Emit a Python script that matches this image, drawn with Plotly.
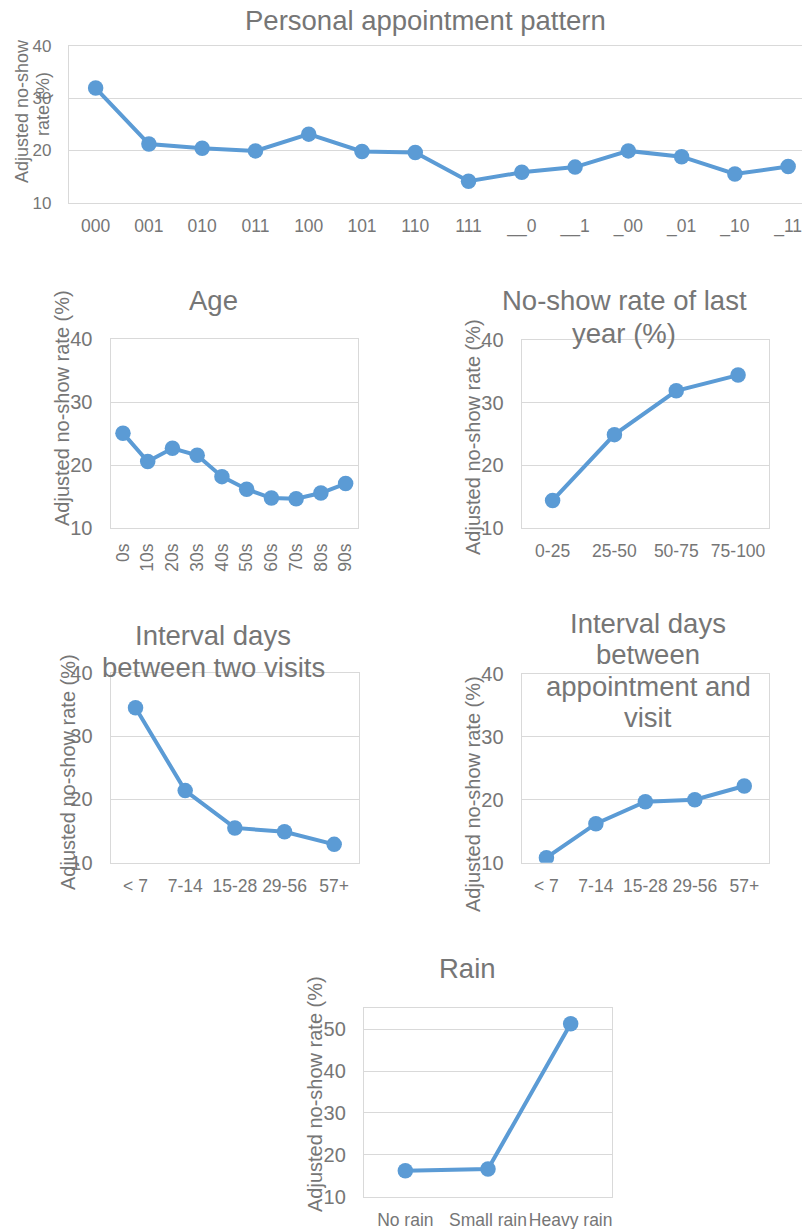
import plotly.graph_objects as go

# ---- data ----
pattern_cats = ["000", "001", "010", "011", "100", "101", "110", "111",
                "__0", "__1", "_00", "_01", "_10", "_11"]
pattern_vals = [31.9, 21.2, 20.4, 19.9, 23.1, 19.8, 19.6, 14.1,
                15.8, 16.8, 19.9, 18.8, 15.5, 16.9]

age_cats = ["0s", "10s", "20s", "30s", "40s", "50s", "60s", "70s", "80s", "90s"]
age_vals = [25.1, 20.6, 22.7, 21.6, 18.2, 16.2, 14.8, 14.7, 15.6, 17.1]

lastyear_cats = ["0-25", "25-50", "50-75", "75-100"]
lastyear_vals = [14.4, 24.9, 31.9, 34.4]

visits_cats = ["< 7", "7-14", "15-28", "29-56", "57+"]
visits_vals = [34.5, 21.4, 15.5, 14.9, 12.9]

appt_cats = ["< 7", "7-14", "15-28", "29-56", "57+"]
appt_vals = [10.8, 16.2, 19.7, 20.0, 22.2]

rain_cats = ["No rain", "Small rain", "Heavy rain"]
rain_vals = [16.2, 16.6, 51.3]

# ---- styling ----
W, H = 802, 1229
FONT = "Liberation Sans, Arial, sans-serif"
TXT = "#767676"
GRID = "#D9D9D9"
BLUE = "#5B9BD5"
YTITLE = "Adjusted no-show rate (%)"


def xdom(x0, x1):
    return [x0 / W, x1 / W]


def ydom(y0, y1):
    return [1 - y1 / H, 1 - y0 / H]


# panel definitions: categories, values, pixel box, ranges, tick font sizes, tick angle
panels = [
    dict(cats=pattern_cats, vals=pattern_vals, box=(69, 45.7, 802, 202.7),
         yr=[10, 40], xr=[-0.5, 13.26], yfs=17, xfs=17.5, ang=0),
    dict(cats=age_cats, vals=age_vals, box=(110.6, 339.3, 358, 528.3),
         yr=[10, 40], xr=None, yfs=20, xfs=17.5, ang=-90),
    dict(cats=lastyear_cats, vals=lastyear_vals, box=(521.7, 340, 769, 528),
         yr=[10, 40], xr=None, yfs=20, xfs=17.5, ang=0),
    dict(cats=visits_cats, vals=visits_vals, box=(110.7, 673, 359, 862.7),
         yr=[10, 40], xr=None, yfs=20, xfs=17.5, ang=0),
    dict(cats=appt_cats, vals=appt_vals, box=(521.7, 674, 769, 862.7),
         yr=[10, 40], xr=None, yfs=20, xfs=17.5, ang=0),
    dict(cats=rain_cats, vals=rain_vals, box=(364, 1008.3, 612, 1196.7),
         yr=[10, 55], xr=None, yfs=20, xfs=17.5, ang=0),
]

fig = go.Figure()
layout = {}
for i, p in enumerate(panels, start=1):
    sx = "" if i == 1 else str(i)
    fig.add_trace(go.Scatter(
        x=p["cats"], y=p["vals"], mode="lines+markers",
        line=dict(color=BLUE, width=4),
        marker=dict(color=BLUE, size=15.5),
        xaxis="x" + sx, yaxis="y" + sx, showlegend=False,
        hoverinfo="x+y",
    ))
    x0, y0, x1, y1 = p["box"]
    n = len(p["cats"])
    layout["xaxis" + sx] = dict(
        domain=xdom(x0, x1), anchor="y" + sx, type="category",
        range=p["xr"] if p["xr"] else [-0.5, n - 0.5],
        automargin=False,
        showgrid=False, zeroline=False,
        showline=True, mirror=True, linecolor=GRID, linewidth=1.3,
        ticks="", tickangle=p["ang"], ticklabelstandoff=7,
        tickfont=dict(family=FONT, size=p["xfs"], color=TXT),
        fixedrange=True,
    )
    layout["yaxis" + sx] = dict(
        domain=ydom(y0, y1), anchor="x" + sx,
        range=p["yr"], dtick=10, tick0=10,
        automargin=False,
        showgrid=True, gridcolor=GRID, gridwidth=1.3, zeroline=False,
        showline=True, mirror=True, linecolor=GRID, linewidth=1.3,
        ticks="", ticklabelstandoff=13,
        tickfont=dict(family=FONT, size=p["yfs"], color=TXT),
        fixedrange=True,
    )

annotations = []


def label(text, px, py, size, angle=0):
    annotations.append(dict(
        text=text, x=px / W, y=1 - py / H, xref="paper", yref="paper",
        xanchor="center", yanchor="middle", showarrow=False, textangle=angle,
        font=dict(family=FONT, size=size, color=TXT),
    ))


# chart titles, one annotation per line
titles = [
    (["Personal appointment pattern"], 425, [20]),
    (["Age"], 214, [300]),
    (["No-show rate of last", "year (%)"], 624, [300, 333]),
    (["Interval days", "between two visits"], 213, [635, 667]),
    (["Interval days", "between", "appointment and", "visit"], 648, [623, 654, 686, 717]),
    (["Rain"], 467, [968]),
]
for lines, cx, ys in titles:
    for line, cy in zip(lines, ys):
        label(line, cx, cy, 27.5)

# y-axis titles
label("Adjusted no-show", 22, 111, 18, -90)
label("rate (%)", 43, 104, 18, -90)
label(YTITLE, 62, 408, 20, -90)
label(YTITLE, 473, 437, 20, -90)
label(YTITLE, 68, 772, 20, -90)
label(YTITLE, 473, 794, 20, -90)
label(YTITLE, 315, 1094, 20, -90)

fig.update_layout(
    width=W, height=H,
    margin=dict(l=0, r=0, t=0, b=0),
    paper_bgcolor="white", plot_bgcolor="white",
    annotations=annotations,
    **layout,
)

fig.write_html("out.html", config={"displayModeBar": False})
